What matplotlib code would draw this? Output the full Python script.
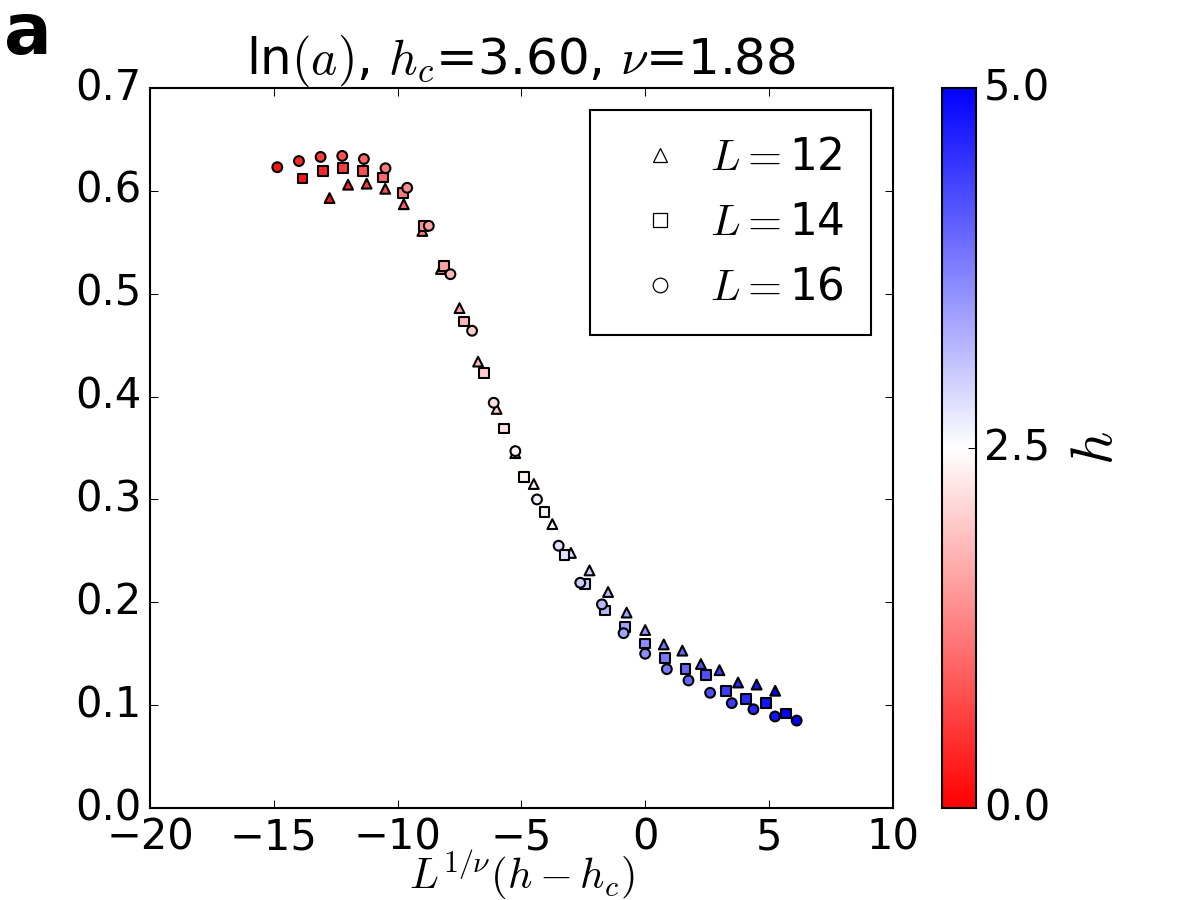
import matplotlib
matplotlib.use("Agg")
import matplotlib.pyplot as plt
from matplotlib.lines import Line2D
import numpy as np

plt.style.use('classic')
plt.rcParams['font.family'] = ['DejaVu Sans']
plt.rcParams['mathtext.fontset'] = 'cm'
plt.rcParams['font.size'] = 20

# scaling parameters
hc = 3.60
nu = 1.88

# field values (same grid for every system size)
h = [0.2, 0.4, 0.6, 0.8, 1.0, 1.2, 1.4, 1.6, 1.8, 2.0, 2.2, 2.4, 2.6,
     2.8, 3.0, 3.2, 3.4, 3.6, 3.8, 4.0, 4.2, 4.4, 4.6, 4.8, 5.0]

# ln(a)
lna_12 = [0.593, 0.606, 0.607, 0.602, 0.587, 0.561, 0.524, 0.486, 0.434,
          0.388, 0.345, 0.315, 0.276, 0.248, 0.231, 0.210, 0.190, 0.173,
          0.159, 0.153, 0.140, 0.134, 0.122, 0.120, 0.114]
lna_14 = [0.612, 0.619, 0.622, 0.619, 0.613, 0.598, 0.566, 0.527, 0.473,
          0.423, 0.369, 0.322, 0.288, 0.246, 0.218, 0.192, 0.176, 0.160,
          0.146, 0.135, 0.129, 0.114, 0.106, 0.102, 0.092]
lna_16 = [0.623, 0.629, 0.633, 0.634, 0.631, 0.622, 0.603, 0.566, 0.519,
          0.464, 0.394, 0.347, 0.300, 0.255, 0.219, 0.198, 0.170, 0.150,
          0.135, 0.124, 0.112, 0.102, 0.096, 0.089, 0.085]

sizes = [12, 14, 16]
series = [lna_12, lna_14, lna_16]
markers = ['^', 's', 'o']

fig = plt.figure(figsize=(8, 6), dpi=150, facecolor='white')
ax = fig.add_axes([0.125, 0.1022, 0.619, 0.8])
cax = fig.add_axes([0.785, 0.1022, 0.028, 0.8])

hh = np.array(h)
for L, y, m in zip(sizes, series, markers):
    x = L ** (1.0 / nu) * (hh - hc)
    sc = ax.scatter(x, y, c=hh, cmap='bwr_r', vmin=0, vmax=5, marker=m,
                    s=22, edgecolors='k', linewidths=1.0, zorder=3)

ax.set_xlim(-20, 10)
ax.set_ylim(0, 0.7)
ax.set_xticks([-20, -15, -10, -5, 0, 5, 10])
ax.tick_params(labelsize=20)
ax.set_xlabel(r'$L^{1/\nu}(h-h_c)$', fontsize=20.5, va='bottom')
ax.xaxis.set_label_coords(0.5, -0.131)
ax.set_title(r'ln$(a)$, $h_c$=3.60, $\nu$=1.88', fontsize=24, y=1.005)

handles = [Line2D([], [], ls='none', marker=m, mfc='none', mec='k',
                  ms=7, mew=0.6) for m in markers]
labels = [r'$L=$' + str(L) for L in sizes]
ax.legend(handles, labels, loc='upper right', numpoints=1, fontsize=21,
          handlelength=2.0, handletextpad=0.15, borderpad=0.6,
          labelspacing=0.5)

cb = fig.colorbar(sc, cax=cax)
cb.set_ticks([0.0, 2.5, 5.0])
cb.ax.tick_params(labelsize=20)
cb.set_label(r'$h$', fontsize=28, labelpad=8)

fig.text(0.003, 0.94, 'a', fontsize=34, fontweight='bold')

fig.savefig('out.png', dpi=150, facecolor='white')
